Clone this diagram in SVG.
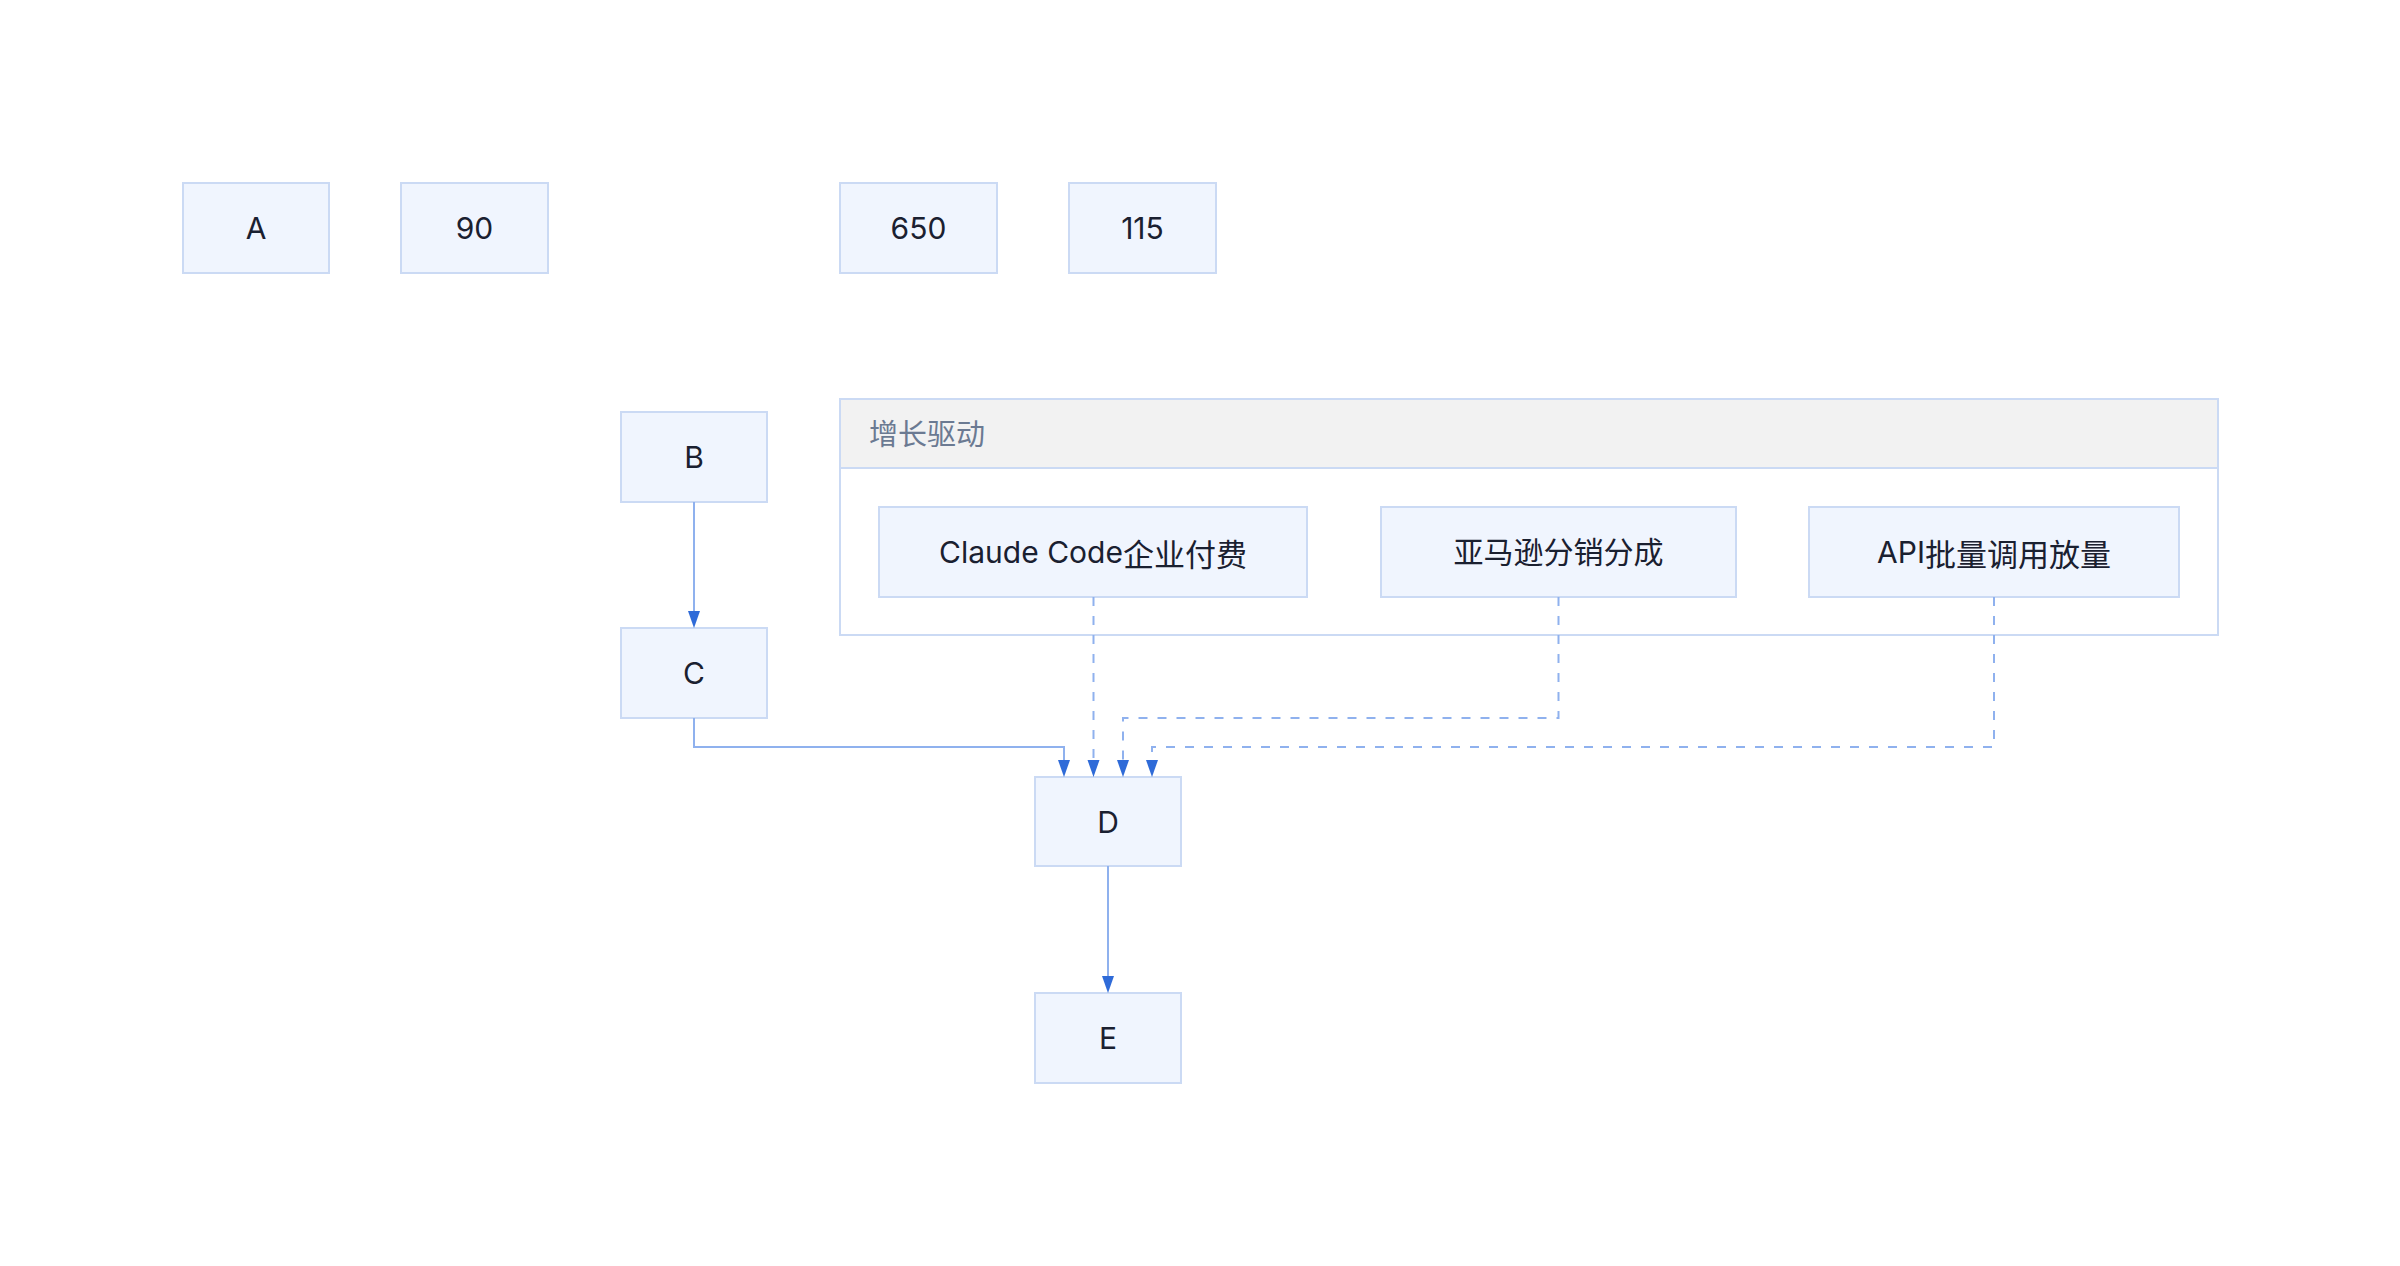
<svg xmlns="http://www.w3.org/2000/svg" width="2400" height="1266" viewBox="0 0 2400 1266">
<style>
.node rect{fill:#f0f5fe;stroke:#cbdaf4;stroke-width:2}
.node text{font-family:Inter,"Noto Sans CJK SC",sans-serif;font-size:30px;fill:#1a2030;text-anchor:middle;dominant-baseline:central}
.cjk{font-family:"Noto Sans CJK SC",sans-serif;font-size:31px}
.edge{fill:none;stroke:#8fb1ee;stroke-width:2}
.dash{stroke-dasharray:9 10}
.cluster-box{fill:#ffffff;stroke:#cbdaf4;stroke-width:2}
.cluster-head{fill:#f2f2f2;stroke:#cbdaf4;stroke-width:2}
.cluster-title{font-family:"Noto Sans CJK SC",sans-serif;font-size:29px;fill:#6b7a92;dominant-baseline:central}
</style>
<defs>
<marker id="arrow" markerUnits="userSpaceOnUse" markerWidth="18" markerHeight="14" refX="0" refY="6" orient="auto">
<path d="M0,0 L17,6 L0,12 z" fill="#2f6bd8"/>
</marker>
</defs>
<rect width="2400" height="1266" fill="#ffffff"/>
<g id="cluster-growth">
<rect class="cluster-box" x="840" y="399" width="1378" height="236"/>
<rect class="cluster-head" x="840" y="399" width="1378" height="69"/>
<text class="cluster-title" x="869" y="432">增长驱动</text>
</g>
<g id="node-A" class="node"><rect x="183" y="183" width="146" height="90"/><text x="256" y="228">A</text></g>
<g id="node-90" class="node"><rect x="401" y="183" width="147" height="90"/><text x="474.5" y="228">90</text></g>
<g id="node-650" class="node"><rect x="840" y="183" width="157" height="90"/><text x="918.5" y="228">650</text></g>
<g id="node-115" class="node"><rect x="1069" y="183" width="147" height="90"/><text x="1142.5" y="228">115</text></g>
<g id="node-B" class="node"><rect x="621" y="412" width="146" height="90"/><text x="694" y="457">B</text></g>
<g id="node-C" class="node"><rect x="621" y="628" width="146" height="90"/><text x="694" y="673">C</text></g>
<g id="node-claude" class="node"><rect x="879" y="507" width="428" height="90"/><text x="1093" y="552">Claude Code<tspan class="cjk">企业付费</tspan></text></g>
<g id="node-amazon" class="node"><rect x="1381" y="507" width="355" height="90"/><text x="1558.5" y="552" class="cjk">亚马逊分销分成</text></g>
<g id="node-api" class="node"><rect x="1809" y="507" width="370" height="90"/><text x="1994" y="552">API<tspan class="cjk">批量调用放量</tspan></text></g>
<g id="node-D" class="node"><rect x="1035" y="777" width="146" height="89"/><text x="1108" y="821.5">D</text></g>
<g id="node-E" class="node"><rect x="1035" y="993" width="146" height="90"/><text x="1108" y="1038">E</text></g>
<g id="connectors">
<path class="edge" d="M694 502 L694 611" marker-end="url(#arrow)"/>
<path class="edge" d="M694 718 L694 747 L1064 747 L1064 760" marker-end="url(#arrow)"/>
<path class="edge dash" d="M1093.5 597 L1093.5 760" marker-end="url(#arrow)"/>
<path class="edge dash" d="M1558.5 597 L1558.5 718 L1123 718 L1123 760" marker-end="url(#arrow)"/>
<path class="edge dash" d="M1994 597 L1994 747 L1152 747 L1152 760" marker-end="url(#arrow)"/>
<path class="edge" d="M1108 866 L1108 976" marker-end="url(#arrow)"/>
</g>
</svg>
